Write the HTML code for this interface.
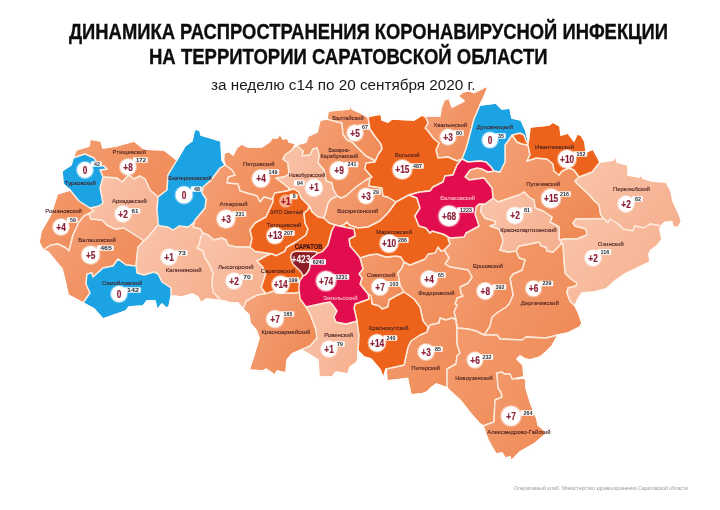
<!DOCTYPE html>
<html><head><meta charset="utf-8">
<style>
html,body{margin:0;padding:0;background:#fff;}
body{width:720px;height:510px;position:relative;overflow:hidden;font-family:"Liberation Sans",sans-serif;}
.t{position:absolute;white-space:nowrap;color:#0d0d0d;transform-origin:0 0;}
#t1{left:68.5px;top:18.6px;font-size:22.5px;font-weight:bold;line-height:26px;-webkit-text-stroke:0.35px #0d0d0d;transform:scaleX(0.817573);}
#t2{left:149px;top:44.2px;font-size:22.5px;font-weight:bold;line-height:26px;-webkit-text-stroke:0.35px #0d0d0d;transform:scaleX(0.822922);}
#t3{left:210.5px;top:76px;font-size:15.5px;line-height:18px;color:#1a1a1a;transform:scaleX(0.985217);}
#ft{left:514px;top:484px;font-size:6px;line-height:8px;color:#999;transform:scaleX(0.832909);}
</style></head><body>
<svg width="720" height="510" viewBox="0 0 720 510" style="position:absolute;left:0;top:0">
<defs><filter id="bl" x="-5%" y="-5%" width="110%" height="110%"><feGaussianBlur stdDeviation="0.45"/></filter><linearGradient id="gM" x1="0" y1="0.2" x2="1" y2="0.8"><stop offset="0" stop-color="#F39A6C"/><stop offset="1" stop-color="#F08B58"/></linearGradient><linearGradient id="gM2" x1="0" y1="0.2" x2="1" y2="0.8"><stop offset="0" stop-color="#F4A178"/><stop offset="1" stop-color="#EF8853"/></linearGradient><linearGradient id="gL" x1="0" y1="0.2" x2="1" y2="0.8"><stop offset="0" stop-color="#F9C3A9"/><stop offset="1" stop-color="#F6B08F"/></linearGradient></defs>
<g filter="url(#bl)">
<g stroke="#FDEADB" stroke-width="1.45" stroke-linejoin="round">
<polygon fill="url(#gM)" points="73,158 76,150 89,146 90,139 101,141 103,148 116,146 134,141 144,149 164,150 177,160 168,175 167,190 158,197 150,190 145,179 140,176 134,179 129,175 122,182 117,178 103,177 100,170 107,169 104,166 98,165 94,158 85,154"/>
<polygon fill="url(#gM)" points="57,194 63,192 70,190 79,201 90,208 94,211 84,216 79,222 73,235 69,251 66,248 58,244 51,245 43,250 39,242 41,231 51,214 56,198"/>
<polygon fill="url(#gM2)" points="94,211 89,214 91,219 102,220 107,225 115,229 124,228 140,238 144,241 138,247 136,266 126,265 118,259 113,266 103,268 93,277 92,273 87,274 86,284 90,293 83,303 68,295 66,285 62,269 48,252 43,250 51,245 58,244 66,248 69,251 73,235 79,222 84,216"/>
<polygon fill="url(#gM)" points="225,165 223.5,160 224,153 229,151.5 233,155 237,147.5 242,144 248,147 262,147 270,141.5 272,137.5 277,138 280,134 283,139 287.5,138 289,142 296,143.5 292,150 285,155 283,159 288,163 289,174 284,177 276,178 284,184 290,189 287,191 275,193 273,198 271,199 264,197 260,202 257,196 240,191 238,184 227,183 228,177 235,175 232,170"/>
<polygon fill="url(#gM2)" points="225,165 232,170 235,175 228,177 227,183 238,184 240,191 257,196 260,202 264,197 271,199 273,198 273,202 266,217 255,223 250,230 252,238.5 250.5,245.5 250,247 236,247 228,245 226,240 222,238 214,240 208,235 203,233 200,229 193,227 194,222 195,220 200,214 205,208 206,199 202,193 203,187 211,180 220,168"/>
<polygon fill="url(#gM2)" points="296,145 306,142 308,136 317,132 320,120 327,119 338,122 342,123 343,134 347,140 352,142 360,150 366,156 374,160 375,162 366,163 365,169 372,177 370,178 366,180 356,187 346,196 341,198 337,196 333,189 332,183 326,181 325,174 324,170 318,163 319,155 317,148 313,149 310,155 302,156 303,151"/>
<polygon fill="url(#gM)" points="327,119 328,111 349,109 350,104 352,109 361,113 368,117 370,129 374,135 381,144 382,149 378,155 375,162 374,160 366,156 360,150 352,142 347,140 343,134 342,123 338,122"/>
<polygon fill="url(#gM2)" points="422,115 428,116 440,116 441,108 444,100 449,98 452,107 458,104 464,101 458,96 463,92 469,90.5 474,92.5 486,86.5 488,87 484,97 480,105 474,119 469,138 466,149 462,159 457,161 448,157 438,158 436,150 439,143 433,138 428,131 425,128 428,123 426,118"/>
<polygon fill="url(#gM2)" points="494,171 500,172 505,162 505,145 508,141 512,135 517,142 522,144 528,145 530,155 527,161 536,158 547,159 553,164 554,171 559,175 562,171 569,168 574,170 579,177 575,181 577.5,184 583,189 589.4,195 594.3,200.8 599,204.7 600.5,214 603.5,218.5 576,219 573,223 575,226 586,229 587,235 577,239 564,239 560,240 559,239 559,227 550,222 552,217 543,211 535,208 534,200 529,197 524,192 519,195 510,198 498,202 493,198 492,188 488,183 484,178 469,180 465,177 470,170 477,168 482,169 488,172"/>
<polygon fill="url(#gM)" points="516,251 519,246 530,244 539,242 541,246 546,247 547,251 553,252 558,247 562,243 563,244 565,273 571,279 577,283 576,286 568,288 567,293 570,301 575,306 579,314 582,323 580,327 568,333 558,335 546,338 526,337 522,340 500,339 497,335 484,335 490,326 492,317 498,312 506,307 509,304 513,295 510,278 513,274 522,270 525,260 519,258"/>
<polygon fill="url(#gM2)" points="479,226 477,220 475,214 476,207 479,204 485,204 481.7,205 480.8,211.7 485,218.3 495,221 495.8,224 490,226 499,229 502.5,238 503,242 500,250 508,252 516,251 519,258 525,260 522,270 513,274 510,278 513,295 509,304 506,307 498,312 492,317 490,326 484,335 476,331 468,329 457,328 456,320 454,312 457,305 455,304 457,298 463,296 461,294 460,287 468,283 472,277 468,270 450,267 445,264 449,258 444,250 450,244 448,239 450,238 464,237 466,233"/>
<polygon fill="url(#gM2)" points="337,196 341,198 346,196 356,187 366,180 370,178 369,186 382,188 383,196 388,197 396,202 388,213 380,221 368,227 358,228 349,225 347,222 344,225 339,226 335,225 329,223 323.5,218 325,215 328,203 331,199"/>
<polygon fill="url(#gM)" points="360,258 369,255 377,254 386,257 396,256 401,257 404,262 402,268 398,273 400,285 404,292 396,296 389,300 388,307 382,309 379,306 372,304 371,296 368,294 363,288 360,284 362,278 359,274 363,269"/>
<polygon fill="url(#gM)" points="404,262 410,265 425,259 428,254 435,253 438,247 441,251 444,250 449,258 445,264 450,267 468,270 472,277 468,283 460,287 461,294 463,296 457,298 455,304 457,305 454,312 456,320 452,318 446,320 440,318 439,323 430,325 427,332 428,327 423,321 420,307 414,299 404,292 400,285 398,273 402,268"/>
<polygon fill="url(#gM2)" points="268,293 273,291 276,293 286,293 296,293 299,292 300,293 300,295 306,307 311,316 316,330 317,338 310,346 301,350 292,354 287,360 286,373 277,371 275,375 266,369 263,371 249,370 253,358 256,348 259,338 256,330 250,323 249,315 243,309 246,301 257,295"/>
<polygon fill="url(#gM)" points="427,332 430,325 439,323 440,318 446,320 452,318 456,320 457,329 457,344 460,353 457,356 456,364 447,369 447,382 447,388 442,386 436,384 432,387 427,392 423,393.5 411,395 408.5,384 407.5,378.5 387,381 386,369 404,365 408,347 411,341 420,335"/>
<polygon fill="url(#gM)" points="456,320 457,328 468,329 476,331 484,335 497,335 500,339 522,340 526,337 546,338 558,335 552,346 546,352 540,357 530,360 525,359 520,356 517,359 523,365 524,377 512,379 510,374 504,374 502,372 497,373 498,388 501,392 502,397 495,400 494,422 483,426 479,423 471,414 460,400 450,391 447,388 447,382 447,369 456,364 457,356 460,353 457,344 457,329"/>
<polygon fill="url(#gM)" points="497,373 502,372 504,374 510,374 512,379 524,378 526,380 526,388 531,404 537,419 538,425 544,430 546,434 534,444 520,452 511,461 510,457 505,458 502,453 496,454 488,440 483,426 494,422 495,400 502,397 501,392 498,388"/>
<polygon fill="url(#gL)" points="103,177 117,178 122,182 129,175 134,179 140,176 145,179 150,190 158,197 157,210 158,220 158,225 149,236 144,241 140,238 124,228 115,229 107,225 102,220 91,219 89,214 94,211 90,208 99,206 103,203 100,188"/>
<polygon fill="url(#gL)" points="144,241 149,236 158,225 161,226 168,227 173,230 179,226 188,227 192,224 194,222 193,227 200,229 203,233 201,237 199,245 197,248 203,251 205,258 209,264 213,273 212,283 213,292 219,298 221,301 216,300 206,299 201,303 198,297 192,294 182,297 173,296 171,297 171,288 162,282 158,274 154,272 144,275 137,273 136,266 138,247"/>
<polygon fill="url(#gL)" points="203,233 208,235 214,240 222,238 226,240 228,245 236,247 250,247 255,251.3 271.3,253.8 267,255.5 257,261 262.5,266.4 265.7,274 263,282 261.3,287.7 265.7,293.3 268,293 257,295 246,301 243,309 238,303 230,303 224,301 221,301 219,298 213,292 212,283 213,273 209,264 205,258 203,251 197,248 199,245 201,237"/>
<polygon fill="url(#gL)" points="296,145 303,151 302,156 310,155 313,149 317,148 319,155 318,163 324,170 325,174 326,181 332,183 333,189 337,196 331,199 328,203 325,215 323.5,218 318,217 312,212 309.6,206.5 309,206 301,198 298.5,192 293.6,189 287,191 290,189 284,184 276,178 284,177 289,174 288,163 283,159 285,155 292,150"/>
<polygon fill="url(#gL)" points="575,181 579,177 592,172 600,162 613,160 616,156 617,162 628,165 628,175 639.4,177 641,173.5 642.5,178 652,181 666,182 671,191 673,201 679.6,215.5 681.6,221.5 677.6,228 672.7,226.5 671.8,221.5 665,222.4 663,224 661,226 650,224 644,228 635,226 633,231 623,229 618,224 610,219 608,223 603.5,218.5 600.5,214 599,204.7 594.3,200.8 589.4,195 583,189 577.5,184"/>
<polygon fill="url(#gL)" points="481.7,205 485,204 493,198 498,202 510,198 519,195 524,192 529,197 534,200 535,208 543,211 552,217 550,222 559,227 559,239 562,243 558,247 553,252 547,251 546,247 541,246 539,242 530,244 519,246 516,251 508,252 500,250 503,242 502.5,238 499,229 490,226 495.8,224 495,221 485,218.3 480.8,211.7"/>
<polygon fill="url(#gL)" points="573,223 576,219 603.5,218.5 608,223 610,219 618,224 623,229 633,231 635,226 644,228 650,224 661,226 663,224 660,229 662,239 657,246 651,250 649,254 650,262 642,266 625,274 616,280 606,289 594,292 582,293 578,299 575,306 570,301 567,293 568,288 576,286 577,283 571,279 565,273 563,244 562,243 559,239 560,240 564,239 577,239 587,235 586,229 575,226"/>
<polygon fill="url(#gL)" points="306,307 324,303 330,302 332,304 337,311 334,317 336,322 346,324 357,321 359,335 358,351 358,358 357,362 350,367 348,374 336,372 332,377 319,377 318,360 310,355 301,350 310,346 317,338 316,330 311,316"/>
<polygon fill="#EE641B" points="368,117 370,116 381,114 382,120 388,122 392,119 414,120 422,115 426,118 428,123 425,128 428,131 433,138 439,143 436,150 438,158 448,157 457,161 462,159 457,165 453,175 445,176 443,182 433,187 430,191 420,192 409,195 396,202 388,197 383,196 382,188 369,186 370,178 372,177 365,169 366,163 375,162 378,155 382,149 381,144 374,135 370,129"/>
<polygon fill="#EE641B" points="512,135 520,133 525,135 527,141 528,144 530,127 549,125 553,122 560,126 561,135 568,133 574,141 577,134 581,135 585,142 586,152 593,149 600,162 592,172 579,177 574,170 569,168 562,171 559,175 554,171 553,164 547,159 536,158 527,161 530,155 528,145 522,144 517,142"/>
<polygon fill="#EE641B" points="339,226 344,225 347,222 349,225 358,228 368,227 380,221 388,213 396,202 409,195 417,198 420,208 415,216 419,226 426,228 430,233 432,231 443,234 450,238 448,239 450,244 444,250 441,251 438,247 435,253 428,254 425,259 410,265 404,262 401,257 396,256 386,257 377,254 369,255 360,258 357,254 350,246 349,239 355,236 354,229"/>
<polygon fill="#EE641B" points="369,299 368,294 371,296 372,304 379,306 382,309 388,307 389,300 396,296 404,292 414,299 420,307 423,321 428,327 427,332 420,335 411,341 408,347 404,365 386,369 383.3,378.5 380,369.5 371,359 364,357 358,351 359,335 357,321 354,308 355,304"/>
<polygon fill="#EE641B" points="293.6,189 298.5,192 301,198 309,206 308,210 304,213 305,223 308,229 306,235 296,242 286.4,247.5 285,251.3 276.3,255.7 271.3,253.8 255,251.3 250,247 250.5,245.5 252,238.5 250,230 255,223 266,217 273,202 273,197 275,193 287,191"/>
<polygon fill="#EE641B" points="308,210 309.6,206.5 312,212 318,217 323.5,218 329,223 335,225 332,230 328,245 324,252 314,255 311,259 308,266 304,274 303,281 300,293 299,292 296,293 286,293 276,293 273,291 268,293 265.7,293.3 261.3,287.7 263,282 265.7,274 262.5,266.4 257,261 267,255.5 271.3,253.8 276.3,255.7 285,251.3 286.4,247.5 296,242 306,235 308,229 305,223 304,213"/>
<polygon fill="#1AA3E4" points="73,158 85,154 94,158 98,165 104,166 107,169 100,170 103,177 100,188 103,203 99,206 90,208 79,201 70,190 63,184 62,171 71,165"/>
<polygon fill="#1AA3E4" points="83,303 90,293 86,284 87,274 92,273 93,277 103,268 113,266 118,259 126,265 136,266 137,273 144,275 154,272 158,274 162,282 171,288 171,297 169,307 166,308 162,304 157,310 155,301 147,301 143,306 129,307 126,311 103,319 94,309"/>
<polygon fill="#1AA3E4" points="194,131 196,129 200,130.5 201,135 208,137 221,141 222,160 225,165 220,168 211,180 203,187 202,193 206,199 205,208 200,214 195,220 194,222 192,224 188,227 179,226 173,230 168,227 161,226 158,225 158,220 157,210 158,197 167,190 168,175 177,160 185,146 192,141"/>
<polygon fill="#1AA3E4" points="480,105 496,103 502,109 510,108 512,118 521,120 526,131 528.5,142 526.5,142 524,135 520,133 512,135 508,141 505,145 505,162 500,172 494,171 491,167 486,162 480,161 468,162 462,159 466,149 469,138 474,119"/>
<polygon fill="#E1114F" points="462,159 468,162 480,161 486,162 491,167 494,171 488,172 482,169 477,168 470,170 465,177 469,180 484,178 488,183 492,188 493,198 485,204 479,204 476,207 475,214 477,220 479,226 466,233 464,237 450,238 443,234 432,231 430,233 426,228 419,226 415,216 420,208 417,198 409,195 420,192 430,191 433,187 443,182 445,176 453,175 457,165"/>
<polygon fill="#E1114F" points="335,225 339,226 354,229 355,236 349,239 350,246 357,254 360,258 363,269 359,274 362,278 360,284 363,288 368,294 369,299 355,304 354,308 357,321 346,324 336,322 334,317 337,311 332,304 330,302 324,303 306,307 300.2,299 298.9,289 299.5,281.4 303.3,275.5 309,270 310,259.5 316.5,253.8 322.8,251.3 328,245 332,230"/>
<path fill="#8C1A25" d="M290.8,257 Q290.6,251.3 297,251.3 L314,251.5 Q318.5,252 316,254.5 Q311,257.5 310.3,259.5 L309.8,267 Q308.5,273 303.5,276 Q301,271 297,268 Q291,263.5 290.8,257 Z"/>
</g>
<polygon fill="none" stroke="#fff" stroke-width="1.5" stroke-linejoin="round" points="43,250 48,252 62,269 66,285 68,295 94,309 103,319 126,311 129,307 143,306 147,301 155,301 157,310 162,304 166,308 169,307 171,297 173,296 182,297 192,294 198,297 201,303 206,299 216,300 221,301 224,301 230,303 238,303 243,309 249,315 250,323 256,330 259,338 253,358 249,370 263,371 266,369 275,375 277,371 286,373 287,360 292,354 301,350 310,355 318,360 319,377 332,377 336,372 348,374 350,367 357,362 358,358 358,351 364,357 371,359 380,369.5 383.3,378.5 386,369.2 387,381 407.5,378.5 408.5,384 411,395 423,393.5 427,392 432,387 436,384 442,386 447,388 450,391 460,400 471,414 479,423 483,426 488,440 496,454 502,453 505,458 510,457 511,461 520,452 534,444 546,434 544,430 538,425 537,419 531,404 526,388 526,380 524,378 517.8,378.5 517.7,378 524,377 523,365 517,359 520,356 525,359 530,360 540,357 546,352 552,346 558,335 568,333 580,327 582,323 579,314 575,306 578,299 582,293 594,292 606,289 616,280 625,274 650,262 649,254 651,250 657,246 662,239 660,229 663,224 665,222.4 671.8,221.5 672.7,226.5 677.6,228 681.6,221.5 679.6,215.5 673,201 671,191 666,182 652,181 642.5,178 641,173.5 639.4,177 628,175 628,165 617,162 616,156 613,160 600,162 593,149 586,152 585,142 581,135 577,134 574,141 568,133 561,135 560,126 553,122 549,125 530,127 528.3,141 526,131 521,120 512,118 510,108 502,109 496,103 480,105 484,97 488,87 486,86.5 474,92.5 469,90.5 463,92 458,96 464,101 452,107 449,98 444,100 441,108 440,116 428,116 422,115 414,120 392,119 388,122 382,120 381,114 370,116 368,117 361,113 352,109 350,104 349,109 328,111 327,119 320,120 317,132 308,136 306,142 296,145 294.1,147.4 293.8,147.1 296,143.5 289,142 287.5,138 283,139 280,134 277,138 272,137.5 270,141.5 262,147 248,147 242,144 237,147.5 233,155 229,151.5 224,153 223.5,160 224.7,164.1 224.5,164.2 222,160 221,141 201,135 200,130.5 196,129 194,131 192,141 185,146 177,160 164,150 144,149 134,141 116,146 103,148 101,141 90,139 89,146 76,150 73,158 71,165 62,171 63,184 70,190 57,194 56,198 51,214 41,231 39,242 43,250"/>
<g font-family="Liberation Sans, sans-serif">
<circle cx="85" cy="170" r="9.1" fill="#fff" fill-opacity="0.45"/>
<circle cx="85" cy="170" r="7.9" fill="#fff"/>
<rect x="90.85" y="161.2" width="10.9" height="5.6" rx="0.8" fill="#fff" fill-opacity="0.95"/>
<text x="97" y="165.95" font-size="5.7" font-weight="bold" fill="#26303a" text-anchor="middle" textLength="5.9" lengthAdjust="spacingAndGlyphs">42</text>
<text x="85.1" y="173.75" font-size="10.4" font-weight="bold" fill="#8E2038" stroke="#8E2038" stroke-width="0.2" text-anchor="middle" textLength="4.61606" lengthAdjust="spacingAndGlyphs">0</text>
<text x="80.3" y="184.6" font-size="5.8" fill="#451e1e" stroke="#451e1e" stroke-width="0.1" text-anchor="middle" textLength="30.9" lengthAdjust="spacingAndGlyphs">Турковский</text>
<circle cx="128" cy="167" r="9.1" fill="#fff" fill-opacity="0.45"/>
<circle cx="128" cy="167" r="7.9" fill="#fff"/>
<rect x="132.85" y="157.2" width="14.9" height="5.6" rx="0.8" fill="#fff" fill-opacity="0.95"/>
<text x="141" y="161.95" font-size="5.9" font-weight="bold" fill="#26303a" text-anchor="middle" textLength="9.9" lengthAdjust="spacingAndGlyphs">172</text>
<text x="128.1" y="170.75" font-size="10.4" font-weight="bold" fill="#8E2038" stroke="#8E2038" stroke-width="0.2" text-anchor="middle" textLength="9.46313" lengthAdjust="spacingAndGlyphs">+8</text>
<text x="129.3" y="154.4" font-size="5.8" fill="#451e1e" stroke="#451e1e" stroke-width="0.1" text-anchor="middle" textLength="33.4" lengthAdjust="spacingAndGlyphs">Ртищевский</text>
<circle cx="123" cy="214" r="9.1" fill="#fff" fill-opacity="0.45"/>
<circle cx="123" cy="214" r="7.9" fill="#fff"/>
<rect x="128.3" y="208.2" width="12" height="5.6" rx="0.8" fill="#fff" fill-opacity="0.95"/>
<text x="135" y="212.95" font-size="5.9" font-weight="bold" fill="#26303a" text-anchor="middle" textLength="7" lengthAdjust="spacingAndGlyphs">61</text>
<text x="123.1" y="217.75" font-size="10.4" font-weight="bold" fill="#8E2038" stroke="#8E2038" stroke-width="0.2" text-anchor="middle" textLength="9.46313" lengthAdjust="spacingAndGlyphs">+2</text>
<text x="129.5" y="203.1" font-size="5.8" fill="#451e1e" stroke="#451e1e" stroke-width="0.1" text-anchor="middle" textLength="34.9" lengthAdjust="spacingAndGlyphs">Аркадакский</text>
<circle cx="61" cy="227" r="9.1" fill="#fff" fill-opacity="0.45"/>
<circle cx="61" cy="227" r="7.9" fill="#fff"/>
<rect x="66.85" y="217.2" width="10.9" height="5.6" rx="0.8" fill="#fff" fill-opacity="0.95"/>
<text x="73" y="221.95" font-size="5.7" font-weight="bold" fill="#26303a" text-anchor="middle" textLength="5.9" lengthAdjust="spacingAndGlyphs">59</text>
<text x="61.1" y="230.75" font-size="10.4" font-weight="bold" fill="#8E2038" stroke="#8E2038" stroke-width="0.2" text-anchor="middle" textLength="9.46313" lengthAdjust="spacingAndGlyphs">+4</text>
<text x="63.6" y="213.1" font-size="5.8" fill="#451e1e" stroke="#451e1e" stroke-width="0.1" text-anchor="middle" textLength="36.7" lengthAdjust="spacingAndGlyphs">Романовский</text>
<circle cx="90.6" cy="255" r="10" fill="#fff" fill-opacity="0.45"/>
<circle cx="90.6" cy="255" r="8.8" fill="#fff"/>
<rect x="96.95" y="245.2" width="16.7" height="5.6" rx="0.8" fill="#fff" fill-opacity="0.95"/>
<text x="106" y="249.95" font-size="5.9" font-weight="bold" fill="#26303a" text-anchor="middle" textLength="11.7" lengthAdjust="spacingAndGlyphs">465</text>
<text x="90.7" y="258.75" font-size="10.4" font-weight="bold" fill="#8E2038" stroke="#8E2038" stroke-width="0.2" text-anchor="middle" textLength="9.46313" lengthAdjust="spacingAndGlyphs">+5</text>
<text x="97" y="242.3" font-size="5.8" fill="#451e1e" stroke="#451e1e" stroke-width="0.1" text-anchor="middle" textLength="37.7" lengthAdjust="spacingAndGlyphs">Балашовский</text>
<circle cx="119" cy="294" r="9.1" fill="#fff" fill-opacity="0.45"/>
<circle cx="119" cy="294" r="7.9" fill="#fff"/>
<rect x="123.8" y="287.2" width="17" height="5.6" rx="0.8" fill="#fff" fill-opacity="0.95"/>
<text x="133" y="291.95" font-size="5.9" font-weight="bold" fill="#26303a" text-anchor="middle" textLength="12" lengthAdjust="spacingAndGlyphs">142</text>
<text x="119.1" y="297.75" font-size="10.4" font-weight="bold" fill="#8E2038" stroke="#8E2038" stroke-width="0.2" text-anchor="middle" textLength="4.61606" lengthAdjust="spacingAndGlyphs">0</text>
<text x="122.1" y="285.3" font-size="5.8" fill="#451e1e" stroke="#451e1e" stroke-width="0.1" text-anchor="middle" textLength="40.2" lengthAdjust="spacingAndGlyphs">Самойловский</text>
<circle cx="169" cy="257" r="9.1" fill="#fff" fill-opacity="0.45"/>
<circle cx="169" cy="257" r="7.9" fill="#fff"/>
<rect x="175" y="250.2" width="12.6" height="5.6" rx="0.8" fill="#fff" fill-opacity="0.95"/>
<text x="182" y="254.95" font-size="5.9" font-weight="bold" fill="#26303a" text-anchor="middle" textLength="7.6" lengthAdjust="spacingAndGlyphs">73</text>
<text x="169.1" y="260.75" font-size="10.4" font-weight="bold" fill="#8E2038" stroke="#8E2038" stroke-width="0.2" text-anchor="middle" textLength="9.46313" lengthAdjust="spacingAndGlyphs">+1</text>
<text x="183.7" y="272.3" font-size="5.8" fill="#451e1e" stroke="#451e1e" stroke-width="0.1" text-anchor="middle" textLength="35.9" lengthAdjust="spacingAndGlyphs">Калининский</text>
<circle cx="234" cy="281" r="9.1" fill="#fff" fill-opacity="0.45"/>
<circle cx="234" cy="281" r="7.9" fill="#fff"/>
<rect x="240" y="274.2" width="12.6" height="5.6" rx="0.8" fill="#fff" fill-opacity="0.95"/>
<text x="247" y="278.95" font-size="5.9" font-weight="bold" fill="#26303a" text-anchor="middle" textLength="7.6" lengthAdjust="spacingAndGlyphs">70</text>
<text x="234.1" y="284.75" font-size="10.4" font-weight="bold" fill="#8E2038" stroke="#8E2038" stroke-width="0.2" text-anchor="middle" textLength="9.46313" lengthAdjust="spacingAndGlyphs">+2</text>
<text x="235.8" y="269.3" font-size="5.8" fill="#451e1e" stroke="#451e1e" stroke-width="0.1" text-anchor="middle" textLength="35.7" lengthAdjust="spacingAndGlyphs">Лысогорский</text>
<circle cx="184" cy="195" r="9.6" fill="#fff" fill-opacity="0.45"/>
<circle cx="184" cy="195" r="8.4" fill="#fff"/>
<rect x="190.85" y="186.2" width="10.9" height="5.6" rx="0.8" fill="#fff" fill-opacity="0.95"/>
<text x="197" y="190.95" font-size="5.7" font-weight="bold" fill="#26303a" text-anchor="middle" textLength="5.9" lengthAdjust="spacingAndGlyphs">48</text>
<text x="184.1" y="198.75" font-size="10.4" font-weight="bold" fill="#8E2038" stroke="#8E2038" stroke-width="0.2" text-anchor="middle" textLength="4.61606" lengthAdjust="spacingAndGlyphs">0</text>
<text x="190" y="180.1" font-size="5.8" fill="#451e1e" stroke="#451e1e" stroke-width="0.1" text-anchor="middle" textLength="43.4" lengthAdjust="spacingAndGlyphs">Екатериновский</text>
<circle cx="261" cy="178.5" r="9.85" fill="#fff" fill-opacity="0.45"/>
<circle cx="261" cy="178.5" r="8.65" fill="#fff"/>
<rect x="265.375" y="169.2" width="13.85" height="5.6" rx="0.8" fill="#fff" fill-opacity="0.95"/>
<text x="273" y="173.95" font-size="5.7" font-weight="bold" fill="#26303a" text-anchor="middle" textLength="8.85" lengthAdjust="spacingAndGlyphs">149</text>
<text x="261.1" y="182.25" font-size="10.4" font-weight="bold" fill="#8E2038" stroke="#8E2038" stroke-width="0.2" text-anchor="middle" textLength="9.46313" lengthAdjust="spacingAndGlyphs">+4</text>
<text x="258.8" y="166.1" font-size="5.8" fill="#451e1e" stroke="#451e1e" stroke-width="0.1" text-anchor="middle" textLength="31.4" lengthAdjust="spacingAndGlyphs">Петровский</text>
<circle cx="226" cy="219" r="10.1" fill="#fff" fill-opacity="0.45"/>
<circle cx="226" cy="219" r="8.9" fill="#fff"/>
<rect x="232.375" y="211.2" width="13.85" height="5.6" rx="0.8" fill="#fff" fill-opacity="0.95"/>
<text x="240" y="215.95" font-size="5.7" font-weight="bold" fill="#26303a" text-anchor="middle" textLength="8.85" lengthAdjust="spacingAndGlyphs">231</text>
<text x="226.1" y="222.75" font-size="10.4" font-weight="bold" fill="#8E2038" stroke="#8E2038" stroke-width="0.2" text-anchor="middle" textLength="9.46313" lengthAdjust="spacingAndGlyphs">+3</text>
<text x="233.6" y="205.8" font-size="5.8" fill="#451e1e" stroke="#451e1e" stroke-width="0.1" text-anchor="middle" textLength="28.1" lengthAdjust="spacingAndGlyphs">Аткарский</text>
<circle cx="285.7" cy="201" r="6.6" fill="#F8B292"/>
<rect x="289.625" y="193.7" width="7.95" height="5.6" rx="0.8" fill="#fff" fill-opacity="0.95"/>
<text x="294.3" y="198.45" font-size="5.7" font-weight="bold" fill="#26303a" text-anchor="middle" textLength="2.95" lengthAdjust="spacingAndGlyphs">8</text>
<text x="285.8" y="204.75" font-size="10.4" font-weight="bold" fill="#A5182B" stroke="#A5182B" stroke-width="0.2" text-anchor="middle" textLength="9.46313" lengthAdjust="spacingAndGlyphs">+1</text>
<text x="286.6" y="214.3" font-size="5.8" fill="#451e1e" stroke="#451e1e" stroke-width="0.1" text-anchor="middle" textLength="32.6" lengthAdjust="spacingAndGlyphs">ЗАТО Светлый</text>
<circle cx="275" cy="235.7" r="9.35" fill="#fff" fill-opacity="0.45"/>
<circle cx="275" cy="235.7" r="8.15" fill="#fff"/>
<rect x="280.875" y="230.2" width="13.85" height="5.6" rx="0.8" fill="#fff" fill-opacity="0.95"/>
<text x="288.5" y="234.95" font-size="5.7" font-weight="bold" fill="#26303a" text-anchor="middle" textLength="8.85" lengthAdjust="spacingAndGlyphs">207</text>
<text x="275.1" y="239.45" font-size="10.4" font-weight="bold" fill="#8E2038" stroke="#8E2038" stroke-width="0.2" text-anchor="middle" textLength="14.0792" lengthAdjust="spacingAndGlyphs">+13</text>
<text x="284" y="227" font-size="5.8" fill="#451e1e" stroke="#451e1e" stroke-width="0.1" text-anchor="middle" textLength="34.5" lengthAdjust="spacingAndGlyphs">Татищевский</text>
<circle cx="314" cy="187.7" r="9.6" fill="#fff" fill-opacity="0.45"/>
<circle cx="314" cy="187.7" r="8.4" fill="#fff"/>
<rect x="293.85" y="180.2" width="10.9" height="5.6" rx="0.8" fill="#fff" fill-opacity="0.95"/>
<text x="300" y="184.95" font-size="5.7" font-weight="bold" fill="#26303a" text-anchor="middle" textLength="5.9" lengthAdjust="spacingAndGlyphs">94</text>
<text x="314.1" y="191.45" font-size="10.4" font-weight="bold" fill="#8E2038" stroke="#8E2038" stroke-width="0.2" text-anchor="middle" textLength="9.46313" lengthAdjust="spacingAndGlyphs">+1</text>
<text x="307.3" y="176.9" font-size="5.8" fill="#451e1e" stroke="#451e1e" stroke-width="0.1" text-anchor="middle" textLength="36.4" lengthAdjust="spacingAndGlyphs">Новобурасский</text>
<circle cx="355" cy="133" r="9.1" fill="#fff" fill-opacity="0.45"/>
<circle cx="355" cy="133" r="7.9" fill="#fff"/>
<rect x="358.85" y="124.2" width="10.9" height="5.6" rx="0.8" fill="#fff" fill-opacity="0.95"/>
<text x="365" y="128.95" font-size="5.7" font-weight="bold" fill="#26303a" text-anchor="middle" textLength="5.9" lengthAdjust="spacingAndGlyphs">67</text>
<text x="355.1" y="136.75" font-size="10.4" font-weight="bold" fill="#8E2038" stroke="#8E2038" stroke-width="0.2" text-anchor="middle" textLength="9.46313" lengthAdjust="spacingAndGlyphs">+5</text>
<text x="348" y="120.1" font-size="5.8" fill="#451e1e" stroke="#451e1e" stroke-width="0.1" text-anchor="middle" textLength="31.4" lengthAdjust="spacingAndGlyphs">Балтайский</text>
<circle cx="339" cy="170.5" r="10.1" fill="#fff" fill-opacity="0.45"/>
<circle cx="339" cy="170.5" r="8.9" fill="#fff"/>
<rect x="344.375" y="161.7" width="13.85" height="5.6" rx="0.8" fill="#fff" fill-opacity="0.95"/>
<text x="352" y="166.45" font-size="5.7" font-weight="bold" fill="#26303a" text-anchor="middle" textLength="8.85" lengthAdjust="spacingAndGlyphs">241</text>
<text x="339.1" y="174.25" font-size="10.4" font-weight="bold" fill="#8E2038" stroke="#8E2038" stroke-width="0.2" text-anchor="middle" textLength="9.46313" lengthAdjust="spacingAndGlyphs">+9</text>
<text x="339.5" y="152.1" font-size="5.8" fill="#451e1e" stroke="#451e1e" stroke-width="0.1" text-anchor="middle" textLength="22.1" lengthAdjust="spacingAndGlyphs">Базарно-</text>
<text x="339.3" y="158.1" font-size="5.8" fill="#451e1e" stroke="#451e1e" stroke-width="0.1" text-anchor="middle" textLength="37.7" lengthAdjust="spacingAndGlyphs">Карабулакский</text>
<circle cx="366" cy="196" r="8.85" fill="#fff" fill-opacity="0.45"/>
<circle cx="366" cy="196" r="7.65" fill="#fff"/>
<rect x="369.85" y="189.2" width="10.9" height="5.6" rx="0.8" fill="#fff" fill-opacity="0.95"/>
<text x="376" y="193.95" font-size="5.7" font-weight="bold" fill="#26303a" text-anchor="middle" textLength="5.9" lengthAdjust="spacingAndGlyphs">29</text>
<text x="366.1" y="199.75" font-size="10.4" font-weight="bold" fill="#8E2038" stroke="#8E2038" stroke-width="0.2" text-anchor="middle" textLength="9.46313" lengthAdjust="spacingAndGlyphs">+3</text>
<text x="357.8" y="213.3" font-size="5.8" fill="#451e1e" stroke="#451e1e" stroke-width="0.1" text-anchor="middle" textLength="40.9" lengthAdjust="spacingAndGlyphs">Воскресенский</text>
<circle cx="402.3" cy="169.5" r="10.6" fill="#fff" fill-opacity="0.45"/>
<circle cx="402.3" cy="169.5" r="9.4" fill="#fff"/>
<rect x="409.875" y="163.2" width="13.85" height="5.6" rx="0.8" fill="#fff" fill-opacity="0.95"/>
<text x="417.5" y="167.95" font-size="5.7" font-weight="bold" fill="#26303a" text-anchor="middle" textLength="8.85" lengthAdjust="spacingAndGlyphs">487</text>
<text x="402.4" y="173.25" font-size="10.4" font-weight="bold" fill="#8E2038" stroke="#8E2038" stroke-width="0.2" text-anchor="middle" textLength="14.0792" lengthAdjust="spacingAndGlyphs">+15</text>
<text x="407.4" y="156.6" font-size="5.8" fill="#451e1e" stroke="#451e1e" stroke-width="0.1" text-anchor="middle" textLength="24.6" lengthAdjust="spacingAndGlyphs">Вольский</text>
<circle cx="389" cy="243.5" r="10.1" fill="#fff" fill-opacity="0.45"/>
<circle cx="389" cy="243.5" r="8.9" fill="#fff"/>
<rect x="394.875" y="237.2" width="13.85" height="5.6" rx="0.8" fill="#fff" fill-opacity="0.95"/>
<text x="402.5" y="241.95" font-size="5.7" font-weight="bold" fill="#26303a" text-anchor="middle" textLength="8.85" lengthAdjust="spacingAndGlyphs">286</text>
<text x="389.1" y="247.25" font-size="10.4" font-weight="bold" fill="#8E2038" stroke="#8E2038" stroke-width="0.2" text-anchor="middle" textLength="14.0792" lengthAdjust="spacingAndGlyphs">+10</text>
<text x="394.1" y="233.9" font-size="5.8" fill="#451e1e" stroke="#451e1e" stroke-width="0.1" text-anchor="middle" textLength="35.7" lengthAdjust="spacingAndGlyphs">Марксовский</text>
<circle cx="448" cy="137" r="8.85" fill="#fff" fill-opacity="0.45"/>
<circle cx="448" cy="137" r="7.65" fill="#fff"/>
<rect x="452.85" y="130.2" width="10.9" height="5.6" rx="0.8" fill="#fff" fill-opacity="0.95"/>
<text x="459" y="134.95" font-size="5.7" font-weight="bold" fill="#26303a" text-anchor="middle" textLength="5.9" lengthAdjust="spacingAndGlyphs">80</text>
<text x="448.1" y="140.75" font-size="10.4" font-weight="bold" fill="#8E2038" stroke="#8E2038" stroke-width="0.2" text-anchor="middle" textLength="9.46313" lengthAdjust="spacingAndGlyphs">+3</text>
<text x="450.3" y="126.7" font-size="5.8" fill="#451e1e" stroke="#451e1e" stroke-width="0.1" text-anchor="middle" textLength="33.6" lengthAdjust="spacingAndGlyphs">Хвалынский</text>
<circle cx="490" cy="140" r="8.85" fill="#fff" fill-opacity="0.45"/>
<circle cx="490" cy="140" r="7.65" fill="#fff"/>
<rect x="494.85" y="133.2" width="10.9" height="5.6" rx="0.8" fill="#fff" fill-opacity="0.95"/>
<text x="501" y="137.95" font-size="5.7" font-weight="bold" fill="#26303a" text-anchor="middle" textLength="5.9" lengthAdjust="spacingAndGlyphs">35</text>
<text x="490.1" y="143.75" font-size="10.4" font-weight="bold" fill="#8E2038" stroke="#8E2038" stroke-width="0.2" text-anchor="middle" textLength="4.61606" lengthAdjust="spacingAndGlyphs">0</text>
<text x="494.9" y="129.2" font-size="5.8" fill="#451e1e" stroke="#451e1e" stroke-width="0.1" text-anchor="middle" textLength="36.4" lengthAdjust="spacingAndGlyphs">Духовницкий</text>
<circle cx="449" cy="216" r="11.35" fill="#fff" fill-opacity="0.45"/>
<circle cx="449" cy="216" r="10.15" fill="#fff"/>
<rect x="456.9" y="207.2" width="16.8" height="5.6" rx="0.8" fill="#fff" fill-opacity="0.95"/>
<text x="466" y="211.95" font-size="5.7" font-weight="bold" fill="#26303a" text-anchor="middle" textLength="11.8" lengthAdjust="spacingAndGlyphs">1223</text>
<text x="449.1" y="219.75" font-size="10.4" font-weight="bold" fill="#8E2038" stroke="#8E2038" stroke-width="0.2" text-anchor="middle" textLength="14.0792" lengthAdjust="spacingAndGlyphs">+68</text>
<text x="457.6" y="199.6" font-size="5.8" fill="#F9B9C7" stroke="#F9B9C7" stroke-width="0.1" text-anchor="middle" textLength="34.6" lengthAdjust="spacingAndGlyphs">Балаковский</text>
<circle cx="515" cy="215.5" r="9.35" fill="#fff" fill-opacity="0.45"/>
<circle cx="515" cy="215.5" r="8.15" fill="#fff"/>
<rect x="520.85" y="207.2" width="10.9" height="5.6" rx="0.8" fill="#fff" fill-opacity="0.95"/>
<text x="527" y="211.95" font-size="5.7" font-weight="bold" fill="#26303a" text-anchor="middle" textLength="5.9" lengthAdjust="spacingAndGlyphs">81</text>
<text x="515.1" y="219.25" font-size="10.4" font-weight="bold" fill="#8E2038" stroke="#8E2038" stroke-width="0.2" text-anchor="middle" textLength="9.46313" lengthAdjust="spacingAndGlyphs">+2</text>
<text x="528.4" y="231.9" font-size="5.8" fill="#451e1e" stroke="#451e1e" stroke-width="0.1" text-anchor="middle" textLength="56.5" lengthAdjust="spacingAndGlyphs">Краснопартизанский</text>
<circle cx="551" cy="198.5" r="10.6" fill="#fff" fill-opacity="0.45"/>
<circle cx="551" cy="198.5" r="9.4" fill="#fff"/>
<rect x="556.875" y="191.2" width="13.85" height="5.6" rx="0.8" fill="#fff" fill-opacity="0.95"/>
<text x="564.5" y="195.95" font-size="5.7" font-weight="bold" fill="#26303a" text-anchor="middle" textLength="8.85" lengthAdjust="spacingAndGlyphs">216</text>
<text x="551.1" y="202.25" font-size="10.4" font-weight="bold" fill="#8E2038" stroke="#8E2038" stroke-width="0.2" text-anchor="middle" textLength="14.0792" lengthAdjust="spacingAndGlyphs">+15</text>
<text x="543.3" y="186.1" font-size="5.8" fill="#451e1e" stroke="#451e1e" stroke-width="0.1" text-anchor="middle" textLength="33.9" lengthAdjust="spacingAndGlyphs">Пугачевский</text>
<circle cx="567" cy="159" r="10.1" fill="#fff" fill-opacity="0.45"/>
<circle cx="567" cy="159" r="8.9" fill="#fff"/>
<rect x="573.375" y="151.2" width="13.85" height="5.6" rx="0.8" fill="#fff" fill-opacity="0.95"/>
<text x="581" y="155.95" font-size="5.7" font-weight="bold" fill="#26303a" text-anchor="middle" textLength="8.85" lengthAdjust="spacingAndGlyphs">152</text>
<text x="567.1" y="162.75" font-size="10.4" font-weight="bold" fill="#8E2038" stroke="#8E2038" stroke-width="0.2" text-anchor="middle" textLength="14.0792" lengthAdjust="spacingAndGlyphs">+10</text>
<text x="554.6" y="148.7" font-size="5.8" fill="#451e1e" stroke="#451e1e" stroke-width="0.1" text-anchor="middle" textLength="39" lengthAdjust="spacingAndGlyphs">Ивантеевский</text>
<circle cx="626" cy="204" r="9.1" fill="#fff" fill-opacity="0.45"/>
<circle cx="626" cy="204" r="7.9" fill="#fff"/>
<rect x="631.85" y="196.2" width="10.9" height="5.6" rx="0.8" fill="#fff" fill-opacity="0.95"/>
<text x="638" y="200.95" font-size="5.7" font-weight="bold" fill="#26303a" text-anchor="middle" textLength="5.9" lengthAdjust="spacingAndGlyphs">82</text>
<text x="626.1" y="207.75" font-size="10.4" font-weight="bold" fill="#8E2038" stroke="#8E2038" stroke-width="0.2" text-anchor="middle" textLength="9.46313" lengthAdjust="spacingAndGlyphs">+2</text>
<text x="631.6" y="190.8" font-size="5.8" fill="#451e1e" stroke="#451e1e" stroke-width="0.1" text-anchor="middle" textLength="37.1" lengthAdjust="spacingAndGlyphs">Перелюбский</text>
<circle cx="593" cy="258" r="9.1" fill="#fff" fill-opacity="0.45"/>
<circle cx="593" cy="258" r="7.9" fill="#fff"/>
<rect x="597.375" y="249.2" width="13.85" height="5.6" rx="0.8" fill="#fff" fill-opacity="0.95"/>
<text x="605" y="253.95" font-size="5.7" font-weight="bold" fill="#26303a" text-anchor="middle" textLength="8.85" lengthAdjust="spacingAndGlyphs">116</text>
<text x="593.1" y="261.75" font-size="10.4" font-weight="bold" fill="#8E2038" stroke="#8E2038" stroke-width="0.2" text-anchor="middle" textLength="9.46313" lengthAdjust="spacingAndGlyphs">+2</text>
<text x="610.8" y="246.3" font-size="5.8" fill="#451e1e" stroke="#451e1e" stroke-width="0.1" text-anchor="middle" textLength="25.9" lengthAdjust="spacingAndGlyphs">Озинский</text>
<circle cx="533.5" cy="288.5" r="8.85" fill="#fff" fill-opacity="0.45"/>
<circle cx="533.5" cy="288.5" r="7.65" fill="#fff"/>
<rect x="539.375" y="280.7" width="13.85" height="5.6" rx="0.8" fill="#fff" fill-opacity="0.95"/>
<text x="547" y="285.45" font-size="5.7" font-weight="bold" fill="#26303a" text-anchor="middle" textLength="8.85" lengthAdjust="spacingAndGlyphs">229</text>
<text x="533.6" y="292.25" font-size="10.4" font-weight="bold" fill="#8E2038" stroke="#8E2038" stroke-width="0.2" text-anchor="middle" textLength="9.46313" lengthAdjust="spacingAndGlyphs">+6</text>
<text x="539.8" y="305.1" font-size="5.8" fill="#451e1e" stroke="#451e1e" stroke-width="0.1" text-anchor="middle" textLength="37.9" lengthAdjust="spacingAndGlyphs">Дергачевский</text>
<circle cx="485.2" cy="291" r="9.35" fill="#fff" fill-opacity="0.45"/>
<circle cx="485.2" cy="291" r="8.15" fill="#fff"/>
<rect x="492.375" y="284.2" width="13.85" height="5.6" rx="0.8" fill="#fff" fill-opacity="0.95"/>
<text x="500" y="288.95" font-size="5.7" font-weight="bold" fill="#26303a" text-anchor="middle" textLength="8.85" lengthAdjust="spacingAndGlyphs">392</text>
<text x="485.3" y="294.75" font-size="10.4" font-weight="bold" fill="#8E2038" stroke="#8E2038" stroke-width="0.2" text-anchor="middle" textLength="9.46313" lengthAdjust="spacingAndGlyphs">+8</text>
<text x="488" y="267.8" font-size="5.8" fill="#451e1e" stroke="#451e1e" stroke-width="0.1" text-anchor="middle" textLength="30.1" lengthAdjust="spacingAndGlyphs">Ершовский</text>
<circle cx="429" cy="279" r="9.35" fill="#fff" fill-opacity="0.45"/>
<circle cx="429" cy="279" r="8.15" fill="#fff"/>
<rect x="434.85" y="272.2" width="10.9" height="5.6" rx="0.8" fill="#fff" fill-opacity="0.95"/>
<text x="441" y="276.95" font-size="5.7" font-weight="bold" fill="#26303a" text-anchor="middle" textLength="5.9" lengthAdjust="spacingAndGlyphs">65</text>
<text x="429.1" y="282.75" font-size="10.4" font-weight="bold" fill="#8E2038" stroke="#8E2038" stroke-width="0.2" text-anchor="middle" textLength="9.46313" lengthAdjust="spacingAndGlyphs">+4</text>
<text x="436.4" y="294.7" font-size="5.8" fill="#451e1e" stroke="#451e1e" stroke-width="0.1" text-anchor="middle" textLength="36.4" lengthAdjust="spacingAndGlyphs">Федоровский</text>
<circle cx="380" cy="287" r="9.35" fill="#fff" fill-opacity="0.45"/>
<circle cx="380" cy="287" r="8.15" fill="#fff"/>
<rect x="386.375" y="281.2" width="13.85" height="5.6" rx="0.8" fill="#fff" fill-opacity="0.95"/>
<text x="394" y="285.95" font-size="5.7" font-weight="bold" fill="#26303a" text-anchor="middle" textLength="8.85" lengthAdjust="spacingAndGlyphs">103</text>
<text x="380.1" y="290.75" font-size="10.4" font-weight="bold" fill="#8E2038" stroke="#8E2038" stroke-width="0.2" text-anchor="middle" textLength="9.46313" lengthAdjust="spacingAndGlyphs">+7</text>
<text x="381" y="276.8" font-size="5.8" fill="#451e1e" stroke="#451e1e" stroke-width="0.1" text-anchor="middle" textLength="28.4" lengthAdjust="spacingAndGlyphs">Советский</text>
<circle cx="326" cy="281" r="10.85" fill="#fff" fill-opacity="0.45"/>
<circle cx="326" cy="281" r="9.65" fill="#fff"/>
<rect x="332.4" y="274.2" width="16.8" height="5.6" rx="0.8" fill="#fff" fill-opacity="0.95"/>
<text x="341.5" y="278.95" font-size="5.7" font-weight="bold" fill="#26303a" text-anchor="middle" textLength="11.8" lengthAdjust="spacingAndGlyphs">1231</text>
<text x="326.1" y="284.75" font-size="10.4" font-weight="bold" fill="#8E2038" stroke="#8E2038" stroke-width="0.2" text-anchor="middle" textLength="14.0792" lengthAdjust="spacingAndGlyphs">+74</text>
<text x="340.2" y="300.3" font-size="5.8" fill="#F9B9C7" stroke="#F9B9C7" stroke-width="0.1" text-anchor="middle" textLength="34.6" lengthAdjust="spacingAndGlyphs">Энгельсский</text>
<circle cx="280.6" cy="284.6" r="9.75" fill="#fff" fill-opacity="0.45"/>
<circle cx="280.6" cy="284.6" r="8.55" fill="#fff"/>
<rect x="285.3" y="277.2" width="14" height="5.6" rx="0.8" fill="#fff" fill-opacity="0.95"/>
<text x="293" y="281.95" font-size="5.9" font-weight="bold" fill="#26303a" text-anchor="middle" textLength="9" lengthAdjust="spacingAndGlyphs">199</text>
<text x="280.7" y="288.35" font-size="10.4" font-weight="bold" fill="#8E2038" stroke="#8E2038" stroke-width="0.2" text-anchor="middle" textLength="14.0792" lengthAdjust="spacingAndGlyphs">+14</text>
<text x="278" y="273.1" font-size="5.8" fill="#451e1e" stroke="#451e1e" stroke-width="0.1" text-anchor="middle" textLength="34.6" lengthAdjust="spacingAndGlyphs">Саратовский</text>
<circle cx="275" cy="319" r="9.6" fill="#fff" fill-opacity="0.45"/>
<circle cx="275" cy="319" r="8.4" fill="#fff"/>
<rect x="280.375" y="311.2" width="13.85" height="5.6" rx="0.8" fill="#fff" fill-opacity="0.95"/>
<text x="288" y="315.95" font-size="5.7" font-weight="bold" fill="#26303a" text-anchor="middle" textLength="8.85" lengthAdjust="spacingAndGlyphs">165</text>
<text x="275.1" y="322.75" font-size="10.4" font-weight="bold" fill="#8E2038" stroke="#8E2038" stroke-width="0.2" text-anchor="middle" textLength="9.46313" lengthAdjust="spacingAndGlyphs">+7</text>
<text x="285.9" y="334.3" font-size="5.8" fill="#451e1e" stroke="#451e1e" stroke-width="0.1" text-anchor="middle" textLength="49" lengthAdjust="spacingAndGlyphs">Красноармейский</text>
<circle cx="329" cy="349" r="9.1" fill="#fff" fill-opacity="0.45"/>
<circle cx="329" cy="349" r="7.9" fill="#fff"/>
<rect x="333.85" y="341.2" width="10.9" height="5.6" rx="0.8" fill="#fff" fill-opacity="0.95"/>
<text x="340" y="345.95" font-size="5.7" font-weight="bold" fill="#26303a" text-anchor="middle" textLength="5.9" lengthAdjust="spacingAndGlyphs">79</text>
<text x="329.1" y="352.75" font-size="10.4" font-weight="bold" fill="#8E2038" stroke="#8E2038" stroke-width="0.2" text-anchor="middle" textLength="9.46313" lengthAdjust="spacingAndGlyphs">+1</text>
<text x="338.6" y="336.6" font-size="5.8" fill="#451e1e" stroke="#451e1e" stroke-width="0.1" text-anchor="middle" textLength="28.9" lengthAdjust="spacingAndGlyphs">Ровенский</text>
<circle cx="377" cy="343" r="9.6" fill="#fff" fill-opacity="0.45"/>
<circle cx="377" cy="343" r="8.4" fill="#fff"/>
<rect x="383.375" y="335.2" width="13.85" height="5.6" rx="0.8" fill="#fff" fill-opacity="0.95"/>
<text x="391" y="339.95" font-size="5.7" font-weight="bold" fill="#26303a" text-anchor="middle" textLength="8.85" lengthAdjust="spacingAndGlyphs">240</text>
<text x="377.1" y="346.75" font-size="10.4" font-weight="bold" fill="#8E2038" stroke="#8E2038" stroke-width="0.2" text-anchor="middle" textLength="14.0792" lengthAdjust="spacingAndGlyphs">+14</text>
<text x="388.7" y="330.3" font-size="5.8" fill="#451e1e" stroke="#451e1e" stroke-width="0.1" text-anchor="middle" textLength="39.8" lengthAdjust="spacingAndGlyphs">Краснокутский</text>
<circle cx="426" cy="352" r="9.1" fill="#fff" fill-opacity="0.45"/>
<circle cx="426" cy="352" r="7.9" fill="#fff"/>
<rect x="431.85" y="346.2" width="10.9" height="5.6" rx="0.8" fill="#fff" fill-opacity="0.95"/>
<text x="438" y="350.95" font-size="5.7" font-weight="bold" fill="#26303a" text-anchor="middle" textLength="5.9" lengthAdjust="spacingAndGlyphs">85</text>
<text x="426.1" y="355.75" font-size="10.4" font-weight="bold" fill="#8E2038" stroke="#8E2038" stroke-width="0.2" text-anchor="middle" textLength="9.46313" lengthAdjust="spacingAndGlyphs">+3</text>
<text x="425.7" y="369.8" font-size="5.8" fill="#451e1e" stroke="#451e1e" stroke-width="0.1" text-anchor="middle" textLength="28.9" lengthAdjust="spacingAndGlyphs">Питерский</text>
<circle cx="475" cy="360" r="8.85" fill="#fff" fill-opacity="0.45"/>
<circle cx="475" cy="360" r="7.65" fill="#fff"/>
<rect x="479.375" y="354.2" width="13.85" height="5.6" rx="0.8" fill="#fff" fill-opacity="0.95"/>
<text x="487" y="358.95" font-size="5.7" font-weight="bold" fill="#26303a" text-anchor="middle" textLength="8.85" lengthAdjust="spacingAndGlyphs">232</text>
<text x="475.1" y="363.75" font-size="10.4" font-weight="bold" fill="#8E2038" stroke="#8E2038" stroke-width="0.2" text-anchor="middle" textLength="9.46313" lengthAdjust="spacingAndGlyphs">+6</text>
<text x="474" y="380.3" font-size="5.8" fill="#451e1e" stroke="#451e1e" stroke-width="0.1" text-anchor="middle" textLength="37.7" lengthAdjust="spacingAndGlyphs">Новоузенский</text>
<circle cx="511" cy="416" r="10.85" fill="#fff" fill-opacity="0.45"/>
<circle cx="511" cy="416" r="9.65" fill="#fff"/>
<rect x="520.375" y="410.2" width="13.85" height="5.6" rx="0.8" fill="#fff" fill-opacity="0.95"/>
<text x="528" y="414.95" font-size="5.7" font-weight="bold" fill="#26303a" text-anchor="middle" textLength="8.85" lengthAdjust="spacingAndGlyphs">264</text>
<text x="511.1" y="419.75" font-size="10.4" font-weight="bold" fill="#8E2038" stroke="#8E2038" stroke-width="0.2" text-anchor="middle" textLength="9.46313" lengthAdjust="spacingAndGlyphs">+7</text>
<text x="519" y="433.9" font-size="5.8" fill="#451e1e" stroke="#451e1e" stroke-width="0.1" text-anchor="middle" textLength="63.3" lengthAdjust="spacingAndGlyphs">Александрово-Гайский</text>
<circle cx="474.8" cy="209.5" r="0.6" fill="#555"/>
<text x="301" y="262.8" font-size="11.5" font-weight="bold" fill="#fff" text-anchor="middle" textLength="19" lengthAdjust="spacingAndGlyphs">+423</text>
<rect x="309.5" y="259.2" width="16.5" height="5.6" rx="0.8" fill="#fff" fill-opacity="0.95"/>
<text x="318.5" y="263.95" font-size="5.5" font-weight="bold" fill="#26303a" text-anchor="middle" textLength="11.4" lengthAdjust="spacingAndGlyphs">6240</text>
<text x="308.6" y="248.6" font-size="7.6" font-weight="bold" fill="#3f1115" stroke="#3f1115" stroke-width="0.2" text-anchor="middle" textLength="27.8" lengthAdjust="spacingAndGlyphs">САРАТОВ</text>
</g>
</g>
</svg>
<div class="t" id="t1">ДИНАМИКА РАСПРОСТРАНЕНИЯ КОРОНАВИРУСНОЙ ИНФЕКЦИИ</div>
<div class="t" id="t2">НА ТЕРРИТОРИИ САРАТОВСКОЙ ОБЛАСТИ</div>
<div class="t" id="t3">за неделю с14 по 20 сентября 2020 г.</div>
<div class="t" id="ft">Оперативный штаб. Министерство здравоохранения Саратовской области</div>
</body></html>
